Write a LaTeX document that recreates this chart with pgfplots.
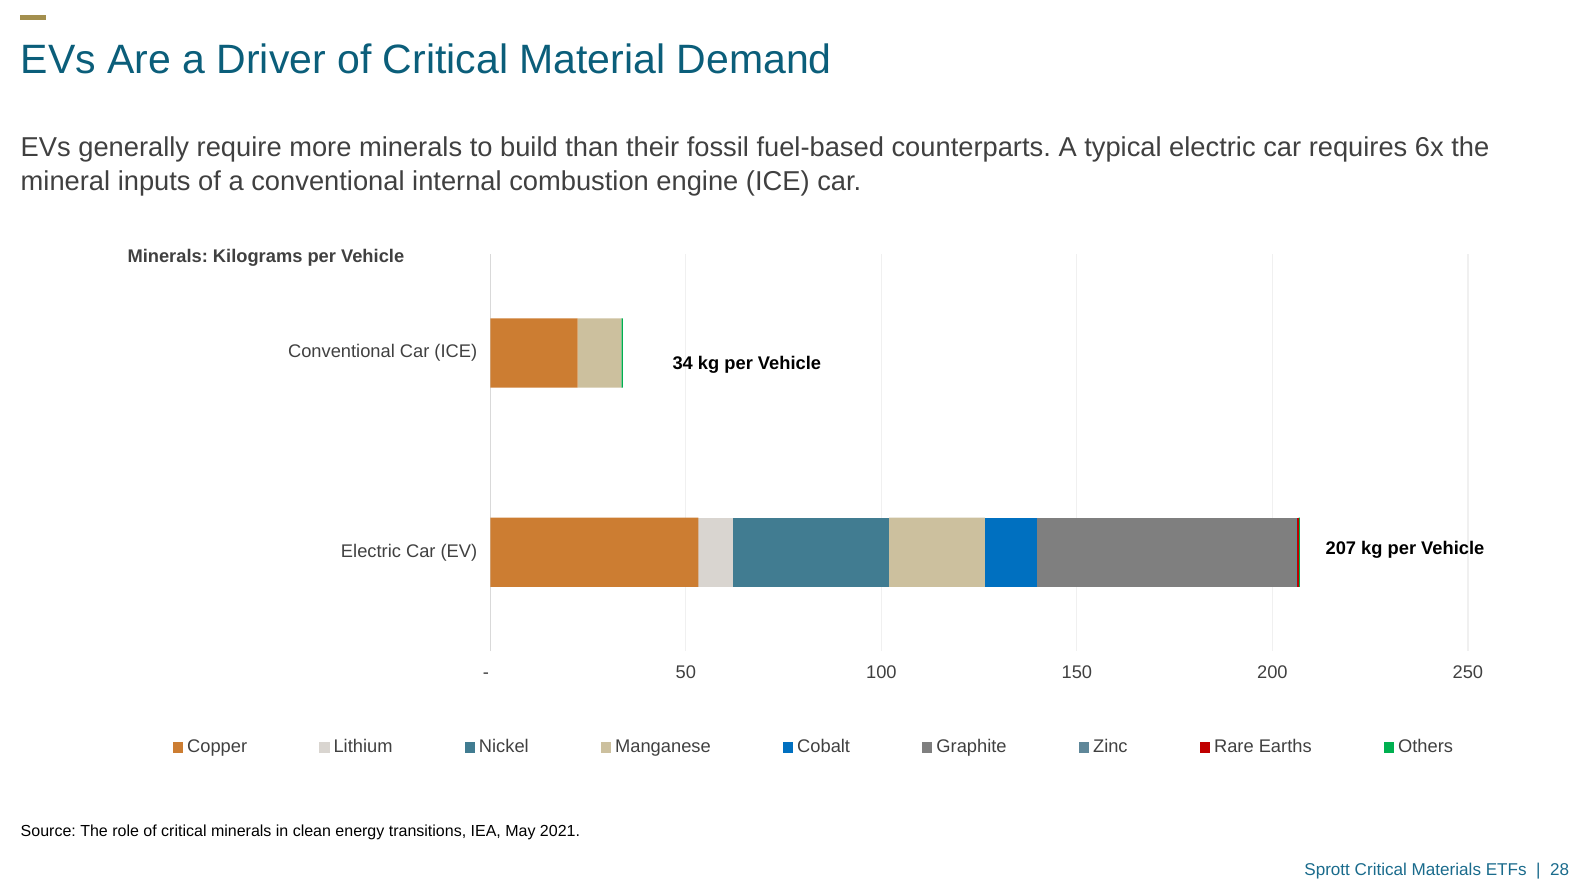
\documentclass[border=0pt]{standalone}
\usepackage{pgfplots}
\pgfplotsset{compat=1.18}
\usepackage{fontspec}
\setmainfont{Liberation Sans}
\frenchspacing
\definecolor{ttl}{HTML}{0B5E7A}
\definecolor{foot}{HTML}{1A6B8C}
\definecolor{txt}{HTML}{404040}
\definecolor{gold}{HTML}{A38F4E}
\definecolor{cCopper}{HTML}{CC7D32}
\definecolor{cLithium}{HTML}{D9D5D0}
\definecolor{cNickel}{HTML}{417C91}
\definecolor{cMang}{HTML}{CCC09E}
\definecolor{cCobalt}{HTML}{0070C0}
\definecolor{cGraph}{HTML}{7F7F7F}
\definecolor{cZinc}{HTML}{5F8799}
\definecolor{cRare}{HTML}{C00000}
\definecolor{cOther}{HTML}{00B050}
\begin{document}
\begin{tikzpicture}
\begin{scope}[x=0.5086pt,y=-0.5086pt]
\fill[gold] (20,15) rectangle (45,19.5);
\node[anchor=base west, inner sep=0, text=ttl, font=\fontsize{20.5}{24}\selectfont] at (20,72.5) {EVs Are a Driver of Critical Material Demand};
\node[anchor=base west, inner sep=0, text=txt, font=\fontsize{13.65}{16.5}\selectfont] at (20,154) {EVs generally require more minerals to build than their fossil fuel-based counterparts. A typical electric car requires 6x the};
\node[anchor=base west, inner sep=0, text=txt, font=\fontsize{13.65}{16.5}\selectfont] at (20,187) {mineral inputs of a conventional internal combustion engine (ICE) car.};
\node[anchor=base west, inner sep=0, text=txt, font=\fontsize{9.15}{11}\selectfont\bfseries] at (125,258) {Minerals: Kilograms per Vehicle};
\node[anchor=base west, inner sep=0, text=black, font=\fontsize{8}{9.5}\selectfont] at (20,822) {Source: The role of critical minerals in clean energy transitions, IEA, May 2021.};
\node[anchor=base east, inner sep=0, text=foot, font=\fontsize{8.55}{10}\selectfont] at (1543,861) {Sprott Critical Materials ETFs \ {}|\ {} 28};
\end{scope}
\begin{axis}[
  at={(245.15pt,-325.5pt)}, anchor=south west,
  scale only axis, width=488.8pt, height=198.4pt,
  xbar stacked, bar width=34.6pt,
  xmin=0, xmax=250, ymin=-0.495, ymax=1.495,
  axis line style={draw=none},
  xtick={0,50,100,150,200,250},
  xticklabels={{-\kern4.5pt},50,100,150,200,250},
  xmajorgrids, grid style={draw=black!6, line width=0.6pt},
  ytick={0,1}, yticklabels={Electric Car (EV),Conventional Car (ICE)},
  major tick length=0pt,
  tick label style={font=\fontsize{9.15}{11}\selectfont, text=txt},
  xticklabel style={yshift=-3.5pt, text height=6.6pt, text depth=0pt},
  yticklabel style={xshift=-3pt},
  /pgf/number format/assume math mode=true,
  legend columns=9,
  legend style={draw=none, fill=none, at={(0.332,-0.243)}, anchor=center,
    font=\fontsize{9.15}{11}\selectfont, text=txt,
    /tikz/every even column/.append style={column sep=34pt},
    inner sep=0pt},
  legend image code/.code={\fill[#1] (0pt,-2.6pt) rectangle (5.2pt,2.6pt);},
  clip=false,
]
\addplot[fill=cCopper, draw=none] coordinates {(53.2,0) (22.3,1)};
\addplot[fill=cLithium, draw=none] coordinates {(8.9,0) (0,1)};
\addplot[fill=cNickel, draw=none] coordinates {(39.9,0) (0,1)};
\addplot[fill=cMang, draw=none] coordinates {(24.5,0) (11.2,1)};
\addplot[fill=cCobalt, draw=none] coordinates {(13.3,0) (0,1)};
\addplot[fill=cGraph, draw=none] coordinates {(66.3,0) (0,1)};
\addplot[fill=cZinc, draw=none] coordinates {(0.1,0) (0,1)};
\addplot[fill=cRare, draw=none] coordinates {(0.5,0) (0,1)};
\addplot[fill=cOther, draw=none] coordinates {(0.3,0) (0.4,1)};
\legend{Copper,Lithium,Nickel,Manganese,Cobalt,Graphite,Zinc,Rare Earths,Others}
\draw[black!15, line width=0.8pt] (axis cs:0,-0.495) -- (axis cs:0,1.495);
\node[font=\fontsize{9.15}{11}\selectfont\bfseries, text=black] at (axis cs:65.6,0.94) {34 kg per Vehicle};
\node[font=\fontsize{9.15}{11}\selectfont\bfseries, text=black] at (axis cs:233.9,0.01) {207 kg per Vehicle};
\end{axis}
\pgfresetboundingbox
\path[use as bounding box] (0,0) rectangle (797.5pt,-446pt);
\end{tikzpicture}
\end{document}
